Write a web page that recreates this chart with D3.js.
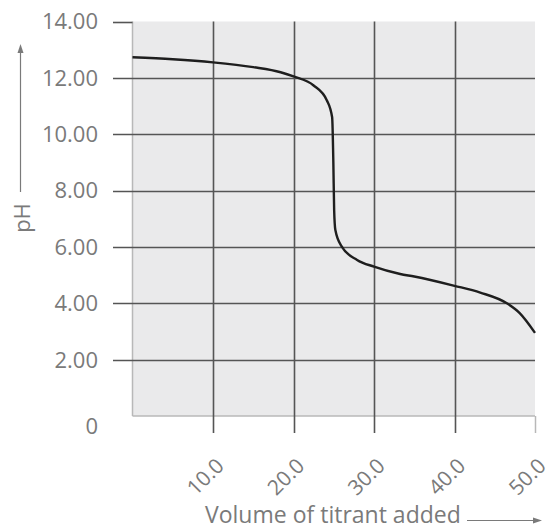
<!DOCTYPE html>
<html>
<head>
<meta charset="utf-8">
<script src="https://cdn.jsdelivr.net/npm/d3@7"></script>
<style>
  html, body { margin: 0; padding: 0; background: #fff; }
  svg { display: block; }
  text { font-family: "Open Sans", "Noto Sans", sans-serif; fill: #7a7a7a; }
</style>
</head>
<body>
<svg id="chart" width="550" height="529"></svg>
<script>
// ---- Data ----
const volume = [0, 5, 10, 15, 18.4, 20, 22.5, 24.15, 24.8, 24.95, 25.05, 25.2, 26.0, 27.9, 30, 33.25, 35, 40, 43.2, 46.5, 48.1, 50];
const pH     = [12.73, 12.66, 12.55, 12.38, 12.2, 12.05, 11.73, 11.2, 10.6, 9.0, 7.3, 6.6, 6.01, 5.54, 5.3, 5.04, 4.95, 4.62, 4.38, 4.0, 3.65, 2.95];
const yTicks = [0, 2, 4, 6, 8, 10, 12, 14];
const yTickLabels = ["0", "2.00", "4.00", "6.00", "8.00", "10.00", "12.00", "14.00"];
const xTicks = [10, 20, 30, 40, 50];
const xTickLabels = ["10.0", "20.0", "30.0", "40.0", "50.0"];
const xTitle = "Volume of titrant added";
const yTitle = "pH";

(function () {
// ---- Layout ----
const svg = d3.select("#chart");
const pLeft = 132.5, pRight = 535, pTop = 21.5, pBottom = 416;
const x = d3.scaleLinear().domain([0, 50]).range([pLeft, pRight]);
const y = d3.scaleLinear().domain([0, 14]).range([pBottom, pTop]);

const gridColor = "#555555";
const lightColor = "#b8b8b8";

// plot background
svg.append("rect")
  .attr("x", pLeft).attr("y", pTop)
  .attr("width", pRight - pLeft).attr("height", pBottom - pTop)
  .attr("fill", "#eaeaeb");

// left & bottom light borders
svg.append("line").attr("x1", pLeft).attr("x2", pLeft).attr("y1", pTop).attr("y2", pBottom)
  .attr("stroke", lightColor).attr("stroke-width", 1.5);
svg.append("line").attr("x1", pLeft).attr("x2", pRight).attr("y1", pBottom).attr("y2", pBottom)
  .attr("stroke", lightColor).attr("stroke-width", 1.5);

// horizontal gridlines + ticks
yTicks.forEach(t => {
  if (t === 0) return;
  const yy = Math.round(y(t)) + 0.5;
  svg.append("line")
    .attr("x1", 113).attr("x2", t === 14 ? pLeft : pRight)
    .attr("y1", yy).attr("y2", yy)
    .attr("stroke", gridColor).attr("stroke-width", 1.6);
});

// vertical gridlines + ticks
xTicks.forEach(t => {
  const xx = Math.round(x(t)) + 0.5;
  if (t === 50) {
    svg.append("line").attr("x1", xx).attr("x2", xx).attr("y1", pBottom).attr("y2", 433)
      .attr("stroke", lightColor).attr("stroke-width", 1.5);
  } else {
    svg.append("line").attr("x1", xx).attr("x2", xx).attr("y1", pTop).attr("y2", 433)
      .attr("stroke", gridColor).attr("stroke-width", 1.6);
  }
});

// y tick labels
yTicks.forEach((t, i) => {
  svg.append("text")
    .attr("x", 98)
    .attr("y", y(t) + (t === 0 ? 10 : 0))
    .attr("dy", "0.36em")
    .attr("text-anchor", "end")
    .attr("font-size", 22)
    .text(yTickLabels[i]);
});

// x tick labels (rotated)
xTicks.forEach((t, i) => {
  const xx = x(t) + 7, yy = 462;
  svg.append("text")
    .attr("transform", `translate(${xx},${yy}) rotate(-45)`)
    .attr("text-anchor", "end")
    .attr("dy", "0.35em")
    .attr("font-size", 21)
    .text(xTickLabels[i]);
});

// curve
const pts = volume.map((v, i) => [v, pH[i]]);
const line = d3.line().x(d => x(d[0])).y(d => y(d[1])).curve(d3.curveMonotoneX);
svg.append("path")
  .attr("d", line(pts))
  .attr("fill", "none")
  .attr("stroke", "#1e1e1e")
  .attr("stroke-width", 2.4);

// y title and arrow
svg.append("text")
  .attr("transform", "translate(30,218) rotate(-90)")
  .attr("text-anchor", "middle")
  .attr("font-size", 22)
  .text(yTitle);
svg.append("line").attr("x1", 20.5).attr("x2", 20.5).attr("y1", 192).attr("y2", 52)
  .attr("stroke", "#7a7a7a").attr("stroke-width", 1.2);
svg.append("path").attr("d", "M20.5,44 L17.5,53 L23.5,53 Z").attr("fill", "#7a7a7a");

// x title and arrow
svg.append("text")
  .attr("x", 205).attr("y", 523)
  .attr("font-size", 23)
  .text(xTitle);
svg.append("line").attr("x1", 467).attr("x2", 533).attr("y1", 520.5).attr("y2", 520.5)
  .attr("stroke", "#7a7a7a").attr("stroke-width", 1.2);
svg.append("path").attr("d", "M542,520.5 L533,517.5 L533,523.5 Z").attr("fill", "#7a7a7a");
})();
</script>
</body>
</html>
